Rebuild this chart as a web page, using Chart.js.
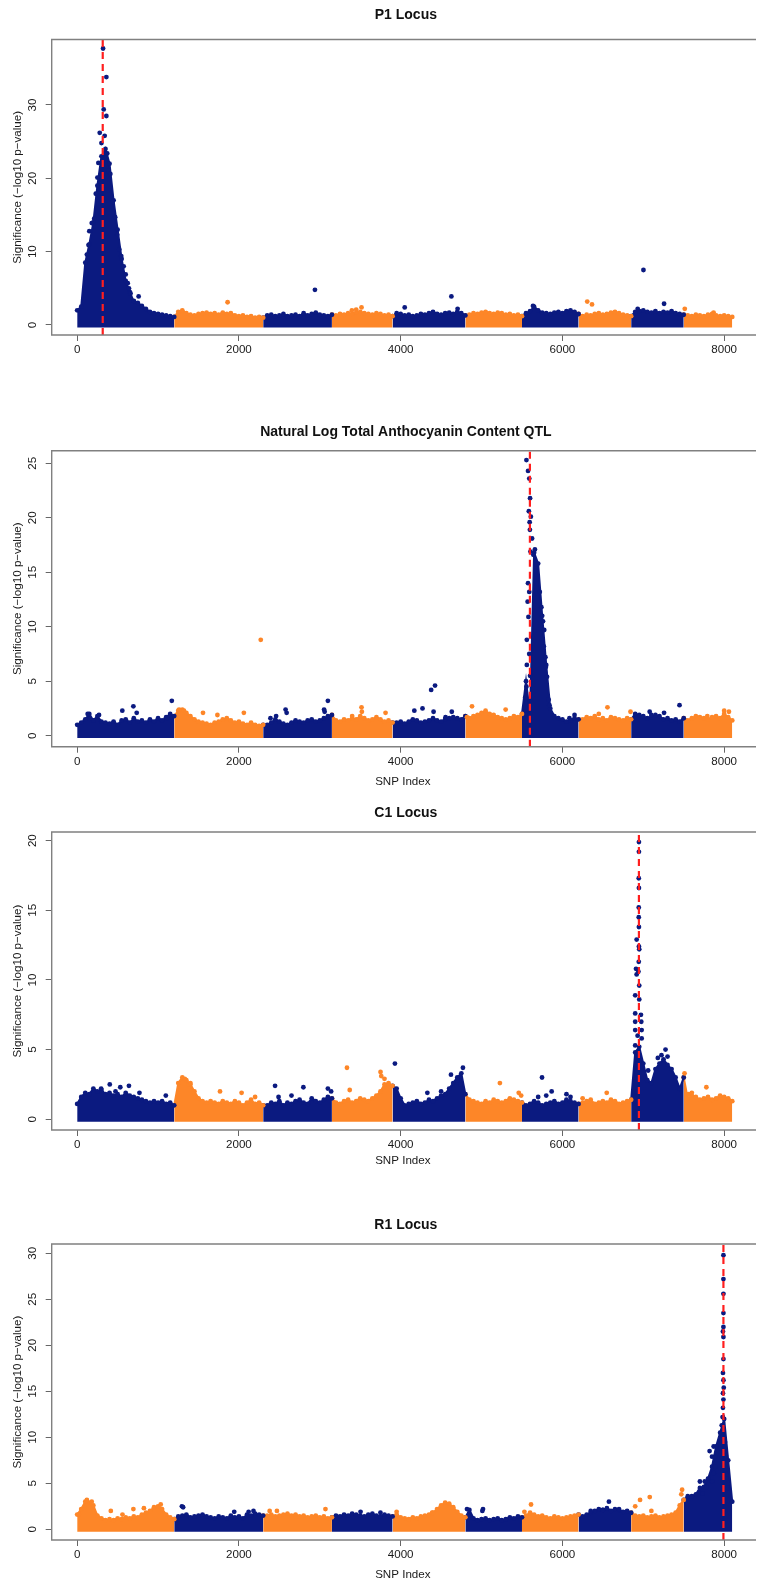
<!DOCTYPE html>
<html>
<head>
<meta charset="utf-8">
<script src="https://cdn.jsdelivr.net/npm/chart.js@4.4.1/dist/chart.umd.min.js"></script>
<style>
  html, body { margin: 0; padding: 0; background: #fff; }
  #page { position: relative; width: 758px; height: 1583px; overflow: hidden; }
  #page canvas { position: absolute; left: 0; }
</style>
</head>
<body>
<div id="page">
  <canvas id="p1" width="758" height="396" style="top:0px"></canvas>
  <canvas id="p2" width="758" height="396" style="top:396px"></canvas>
  <canvas id="p3" width="758" height="396" style="top:792px"></canvas>
  <canvas id="p4" width="758" height="395" style="top:1188px"></canvas>
</div>
<script>
// Manhattan plots, four loci. Dense SNP cloud is kept as the top of the
// band every 50 SNPs; isolated / peak SNPs are listed one by one.

const X_TICKS = [0, 2000, 4000, 6000, 8000];
const GRID_STEP = 50; // SNP index spacing of the band samples
const CHROM_BOUNDS = [0, 1200, 2300, 3150, 3900, 4800, 5500, 6200, 6850, 7500, 8100];

// ---- P1 Locus ----
const P1_Y_TICKS = [0, 10, 20, 30];
const P1_LEAD = 316;
const P1_TOP = [
  2.0, 2.5, 8.5, 11, 14, 19, 23, 24, 22, 17, 13, 9, 6, 4.5, 3.2, 3.0, 2.6, 2.2, 1.8, 1.6, 1.5, 1.4, 1.3, 1.2, 1.1,
  1.8, 2.0, 1.6, 1.4, 1.3, 1.5, 1.6, 1.7, 1.5, 1.6, 1.4, 1.7, 1.5, 1.6, 1.3, 1.2, 1.3, 1.1, 1.2, 1.0, 1.1, 1.0,
  1.3, 1.4, 1.2, 1.3, 1.5, 1.2, 1.3, 1.4, 1.2, 1.6, 1.3, 1.5, 1.7, 1.4, 1.3, 1.2, 1.4,
  1.3, 1.5, 1.4, 1.6, 1.5, 1.7, 1.8, 1.6, 1.5, 1.4, 1.6, 1.5, 1.3, 1.4, 1.2,
  1.6, 1.5, 1.3, 1.4, 1.2, 1.3, 1.5, 1.4, 1.6, 1.8, 1.5, 1.4, 1.6, 1.7, 1.5, 1.8, 1.6, 1.3,
  1.4, 1.6, 1.5, 1.7, 1.8, 1.6, 1.5, 1.7, 1.6, 1.4, 1.5, 1.3, 1.4, 1.2,
  1.6, 1.9, 2.5, 2.0, 1.7, 1.6, 1.5, 1.7, 1.8, 1.6, 1.9, 2.0, 1.8, 1.5,
  1.2, 1.4, 1.3, 1.5, 1.6, 1.4, 1.5, 1.7, 1.8, 1.6, 1.4, 1.3, 1.2,
  1.8, 1.9, 2.0, 1.8, 1.7, 1.9, 1.6, 1.8, 1.7, 1.9, 1.6, 1.5, 1.4,
  1.3, 1.2, 1.4, 1.3, 1.2, 1.4, 1.5, 1.3, 1.2, 1.3, 1.2, 1.1,
];
const P1_SPOTS = [
  [320, 37.7], [361, 33.8], [328, 29.4], [361, 28.5], [279, 26.2], [340, 25.8], [300, 24.8], [372, 23.4],
  [262, 22.1], [385, 21.0], [250, 20.1], [410, 20.6], [230, 17.9], [440, 16.8], [210, 14.5], [470, 14.7],
  [180, 13.9], [495, 12.3], [150, 12.8], [140, 10.9], [520, 10.3], [545, 9.4], [120, 9.6], [575, 8.0],
  [600, 6.9], [625, 5.7], [640, 5.0], [660, 4.3], [760, 3.9], [700, 3.3], [1860, 3.1], [2940, 4.8],
  [3397, 2.0], [3450, 2.1], [3516, 2.4], [4050, 2.4], [4627, 3.9], [4704, 2.2], [5636, 2.6], [6307, 3.2],
  [6366, 2.8], [6931, 2.2], [7002, 7.5], [7257, 2.9], [7513, 2.2], [7869, 1.7],
];

// ---- Natural Log Total Anthocyanin Content QTL ----
const P2_Y_TICKS = [0, 5, 10, 15, 20, 25];
const P2_LEAD = 5598;
const P2_TOP = [
  1.0, 1.2, 1.5, 2.0, 1.4, 1.8, 1.3, 1.2, 1.1, 1.3, 1.0, 1.4, 1.5, 1.2, 1.6, 1.3, 1.4, 1.2, 1.5, 1.3, 1.6, 1.4, 1.7, 2.0, 1.8,
  2.3, 2.4, 2.1, 1.8, 1.5, 1.3, 1.2, 1.1, 1.0, 1.2, 1.3, 1.5, 1.6, 1.4, 1.2, 1.3, 1.1, 1.0, 1.2, 1.0, 0.9, 1.0,
  1.0, 1.2, 1.5, 1.3, 1.1, 1.0, 1.2, 1.4, 1.3, 1.2, 1.4, 1.5, 1.3, 1.4, 1.6, 1.8, 1.9,
  1.4, 1.3, 1.5, 1.4, 1.6, 1.5, 1.8, 1.6, 1.4, 1.5, 1.7, 1.5, 1.3, 1.4, 1.2,
  1.2, 1.3, 1.1, 1.3, 1.5, 1.4, 1.2, 1.3, 1.4, 1.6, 1.4, 1.3, 1.5, 1.6, 1.7, 1.6, 1.5, 1.8,
  1.6, 1.8, 1.9, 2.1, 2.3, 2.0, 1.9, 1.7, 1.6, 1.5, 1.6, 1.8, 1.7, 2.0,
  5.0, 2.0, 16.8, 15.8, 11, 6.5, 2.5, 1.8, 1.6, 1.5, 1.3, 1.4, 1.6, 1.5,
  1.5, 1.7, 1.6, 1.8, 1.5, 1.6, 1.4, 1.7, 1.6, 1.5, 1.4, 1.6, 1.5,
  2.0, 1.9, 1.8, 1.6, 1.7, 1.9, 1.8, 1.5, 1.6, 1.4, 1.5, 1.3, 1.6,
  1.4, 1.6, 1.8, 1.7, 1.6, 1.5, 1.7, 1.8, 1.6, 2.0, 1.7, 1.4,
];
const P2_SPOTS = [
  [130, 2.0], [270, 1.9], [558, 2.3], [695, 2.7], [736, 2.1], [1110, 1.6], [1170, 3.2],
  [1260, 2.4], [1320, 2.3], [1556, 2.1], [1734, 1.9], [2061, 2.1], [2270, 8.8],
  [2390, 1.6], [2460, 1.8], [2577, 2.4], [2590, 2.1], [3053, 2.4], [3060, 2.2], [3100, 3.2],
  [3400, 1.8], [3516, 2.6], [3520, 2.2], [3813, 2.1],
  [4169, 2.3], [4270, 2.5], [4377, 4.2], [4407, 2.2], [4425, 4.6], [4555, 1.7], [4632, 2.2],
  [4820, 1.7], [4882, 2.7], [5298, 2.4],
  [5555, 25.3], [5575, 24.3], [5590, 23.6], [5600, 21.8], [5585, 20.6], [5610, 20.1], [5595, 19.6],
  [5598, 18.9], [5625, 18.1], [5605, 16.9], [5640, 16.6], [5575, 14.0], [5590, 13.2], [5570, 12.3],
  [5580, 10.9], [5560, 8.8], [5590, 7.5], [5560, 6.5], [5600, 5.5], [5555, 4.5], [5540, 3.5], [5600, 3.2],
  [5660, 17.1], [5720, 13.2], [5740, 11.8], [5760, 10.5], [5775, 9.7], [5770, 8.2], [5790, 7.2],
  [5795, 6.3], [5810, 5.4], [5830, 3.3], [5840, 2.8], [6087, 1.6], [6150, 1.9],
  [6450, 2.0], [6557, 2.6], [6842, 2.2], [7079, 2.2], [7100, 1.9], [7257, 2.1], [7448, 2.8],
  [7792, 1.8], [8000, 2.3], [8059, 2.2],
];

// ---- C1 Locus ----
const P3_Y_TICKS = [0, 5, 10, 15, 20];
const P3_LEAD = 6946;
const P3_TOP = [
  1.1, 1.6, 1.9, 1.8, 2.2, 2.0, 2.1, 1.8, 1.9, 1.7, 1.8, 1.6, 1.9, 1.7, 1.6, 1.5, 1.4, 1.3, 1.2, 1.3, 1.2, 1.3, 1.1, 1.2, 1.0,
  2.6, 3.0, 2.8, 2.5, 2.0, 1.5, 1.3, 1.2, 1.3, 1.2, 1.1, 1.3, 1.2, 1.1, 1.3, 1.2, 1.0, 1.2, 1.4, 1.1, 1.2, 1.0,
  1.0, 1.2, 1.1, 1.3, 1.0, 1.2, 1.1, 1.3, 1.4, 1.2, 1.1, 1.5, 1.3, 1.2, 1.4, 1.6, 1.5,
  1.2, 1.1, 1.3, 1.4, 1.2, 1.3, 1.5, 1.4, 1.3, 1.5, 1.7, 2.0, 2.5, 2.6, 2.4,
  2.2, 1.5, 1.0, 1.1, 1.2, 1.3, 1.1, 1.2, 1.4, 1.3, 1.5, 1.7, 1.8, 2.2, 2.6, 3.0, 3.3, 1.8,
  1.4, 1.3, 1.2, 1.1, 1.3, 1.2, 1.4, 1.3, 1.2, 1.3, 1.5, 1.4, 1.3, 1.2,
  1.0, 1.1, 1.3, 1.2, 1.0, 1.1, 1.2, 1.3, 1.1, 1.2, 1.4, 1.3, 1.2, 1.1,
  1.2, 1.3, 1.4, 1.1, 1.2, 1.3, 1.2, 1.4, 1.3, 1.1, 1.2, 1.3, 1.4,
  4.8, 5.2, 4.0, 2.8, 2.6, 3.6, 4.0, 4.3, 3.9, 3.6, 3.0, 2.2, 3.0,
  1.5, 1.7, 1.6, 1.4, 1.5, 1.6, 1.4, 1.5, 1.7, 1.6, 1.5, 1.3,
];
const P3_SPOTS = [
  [296, 2.2], [403, 2.5], [474, 2.0], [533, 2.3], [640, 2.4], [770, 1.9], [1096, 1.7],
  [1330, 2.9], [1380, 2.5], [1400, 2.6], [1766, 2.0], [2033, 1.9], [2200, 1.6],
  [2447, 2.4], [2490, 1.6], [2650, 1.7], [2797, 2.3], [3100, 2.2], [3140, 2.0],
  [3336, 3.7], [3370, 2.1], [3751, 3.4], [3760, 3.1], [3800, 2.9],
  [3929, 4.0], [4330, 1.9], [4500, 2.0], [4622, 3.2], [4700, 2.8], [4740, 2.5], [4770, 3.7],
  [5227, 2.6], [5460, 1.9], [5490, 1.7],
  [5700, 1.6], [5748, 3.0], [5800, 1.7], [5867, 2.0], [6050, 1.8], [6100, 1.6],
  [6250, 1.5], [6548, 1.9],
  [6946, 19.9], [6946, 19.2], [6944, 17.3], [6946, 16.6], [6944, 15.2], [6944, 14.5], [6946, 13.8],
  [6918, 12.9], [6946, 12.4], [6950, 12.2], [6944, 11.3], [6910, 10.8], [6940, 10.6], [6918, 10.4],
  [6950, 9.6], [6900, 8.9], [6950, 8.6], [6900, 7.6], [6971, 7.5], [6900, 7.0], [6975, 7.0],
  [6900, 6.4], [6980, 6.4], [6930, 6.0], [6980, 5.8], [6900, 5.3], [7275, 5.0], [7225, 4.6],
  [6918, 4.3], [7300, 4.5], [7180, 4.4], [7060, 3.5], [7510, 3.3],
  [7560, 1.8], [7600, 1.9], [7780, 2.3],
];

// ---- R1 Locus ----
const P4_Y_TICKS = [0, 5, 10, 15, 20, 25, 30];
const P4_LEAD = 7991;
const P4_TOP = [
  1.6, 2.2, 3.0, 2.9, 2.6, 1.5, 1.2, 1.0, 1.1, 1.0, 1.2, 1.1, 1.3, 1.2, 1.4, 1.3, 1.6, 1.8, 2.0, 2.4, 2.5, 2.2, 1.6, 1.3, 1.1,
  1.4, 1.5, 1.6, 1.3, 1.4, 1.5, 1.6, 1.4, 1.3, 1.2, 1.4, 1.3, 1.2, 1.5, 1.3, 1.4, 1.2, 1.6, 1.5, 1.7, 1.6, 1.5,
  1.5, 1.6, 1.4, 1.5, 1.6, 1.7, 1.5, 1.6, 1.4, 1.5, 1.3, 1.4, 1.5, 1.3, 1.4, 1.2, 1.3,
  1.5, 1.4, 1.6, 1.5, 1.7, 1.6, 1.5, 1.4, 1.6, 1.7, 1.5, 1.4, 1.6, 1.5, 1.4,
  1.6, 1.3, 1.2, 1.1, 1.3, 1.2, 1.4, 1.5, 1.6, 1.8, 2.2, 2.6, 2.9, 2.8, 2.4, 1.9, 1.5, 1.3,
  2.1, 1.2, 1.0, 1.1, 1.2, 1.0, 1.1, 1.2, 1.0, 1.1, 1.3, 1.2, 1.4, 1.3,
  1.5, 1.8, 1.6, 1.4, 1.5, 1.3, 1.2, 1.4, 1.3, 1.2, 1.3, 1.4, 1.5, 1.6,
  1.4, 1.6, 1.8, 2.0, 2.2, 2.1, 2.3, 2.0, 2.2, 2.1, 1.9, 2.0, 1.8,
  1.5, 1.4, 1.5, 1.3, 1.4, 1.5, 1.3, 1.4, 1.5, 1.6, 1.8, 2.6, 3.2,
  3.6, 3.6, 3.8, 4.5, 4.6, 5.5, 6.8, 9.0, 10.5, 12.0, 7.5, 3.0,
];
const P4_SPOTS = [
  [20, 1.6], [120, 3.2], [180, 3.0], [416, 2.0], [560, 1.6], [695, 2.2], [825, 2.3], [1033, 2.7],
  [1295, 2.5], [1310, 2.4], [1942, 1.9], [2120, 1.9], [2180, 2.0],
  [2380, 2.0], [2470, 2.0], [3070, 2.2], [3504, 1.9], [3750, 1.8],
  [3950, 1.9], [4389, 1.8], [4820, 2.2], [5010, 2.0], [5018, 2.2], [5530, 1.9], [5612, 2.7],
  [6350, 2.0], [6500, 2.1], [6575, 3.0], [6700, 2.2],
  [6900, 2.5], [6960, 3.2], [7080, 3.5], [7100, 2.0], [7470, 3.8], [7480, 4.3],
  [7991, 29.8], [7991, 27.2], [7991, 25.6], [7991, 23.5], [7991, 22.0], [7985, 21.5], [7991, 20.9],
  [7991, 18.5], [7985, 17.0], [7991, 16.2], [7995, 15.4], [7985, 14.8], [7991, 14.1], [7985, 13.2],
  [7980, 12.2], [7970, 11.3], [7975, 10.5], [7960, 9.7], [7950, 8.8], [7890, 7.9], [7890, 6.8],
  [7870, 6.1], [7850, 5.2], [7780, 4.6], [7730, 3.9], [7850, 7.9], [7820, 8.5], [7870, 9.0],
  [8010, 9.5], [8020, 8.0], [8030, 6.0], [8045, 4.5], [7700, 5.2], [7760, 5.2],
];

const NAVY = "#0b1a80";
const ORANGE = "#fd8628";
const LEAD_RED = "#ff1f1f";
const FONT = "'Liberation Sans', Arial, Helvetica, sans-serif";
const INK = "#1a1a1a";
const FRAME = "#808080";
const DOT_R = 2.4;

const X_MIN = -315;
const X_MAX = 8369;
const Y_AXIS_W = 51.7;

const PANELS = [
  { id: "p1", title: "P1 Locus", top: P1_TOP, spots: P1_SPOTS, lead: P1_LEAD, yTicks: P1_Y_TICKS,
    height: 396, boxTop: 39.5, boxBottom: 335, yMin: -1.364, yMax: 38.93, titleY: 15,
    xTitle: false, xTitlePad: 0, fillBase: -0.33, flip: false },
  { id: "p2", title: "Natural Log Total Anthocyanin Content QTL", top: P2_TOP, spots: P2_SPOTS, lead: P2_LEAD, yTicks: P2_Y_TICKS,
    height: 396, boxTop: 54.7, boxBottom: 350.7, yMin: -1.01, yMax: 26.16, titleY: 35.7,
    xTitle: true, xTitlePad: 3, fillBase: -0.22, flip: false },
  { id: "p3", title: "C1 Locus", top: P3_TOP, spots: P3_SPOTS, lead: P3_LEAD, yTicks: P3_Y_TICKS,
    height: 396, boxTop: 40, boxBottom: 338, yMin: -0.77, yMax: 20.62, titleY: 21,
    xTitle: true, xTitlePad: 20, fillBase: -0.17, flip: false },
  { id: "p4", title: "R1 Locus", top: P4_TOP, spots: P4_SPOTS, lead: P4_LEAD, yTicks: P4_Y_TICKS,
    height: 395, boxTop: 56, boxBottom: 352, yMin: -1.16, yMax: 31.01, titleY: 37,
    xTitle: true, xTitlePad: 1, fillBase: -0.26, flip: true },
];

function chromIndex(x) {
  for (let k = 0; k < CHROM_BOUNDS.length - 1; k++) {
    if (x < CHROM_BOUNDS[k + 1]) return k;
  }
  return CHROM_BOUNDS.length - 2;
}

function chromColour(k, flip) {
  const even = k % 2 === 0;
  return (even !== flip) ? NAVY : ORANGE;
}

function bandDatasets(p) {
  const sets = [];
  for (let k = 0; k < CHROM_BOUNDS.length - 1; k++) {
    const lo = CHROM_BOUNDS[k];
    const hi = CHROM_BOUNDS[k + 1];
    const pts = [];
    p.top.forEach((y, i) => {
      const x = i * GRID_STEP;
      if (x >= lo && x <= hi) pts.push({ x, y });
    });
    const colour = chromColour(k, p.flip);
    sets.push({
      data: pts,
      borderColor: colour,
      backgroundColor: colour,
      pointBackgroundColor: colour,
      pointBorderWidth: 0,
      pointRadius: DOT_R,
      borderWidth: 2,
      tension: 0,
      fill: { value: p.fillBase },
      order: 2,
    });
  }
  return sets;
}

function spotDataset(p) {
  return {
    data: p.spots.map(([x, y]) => ({ x, y })),
    showLine: false,
    pointRadius: DOT_R,
    pointBorderWidth: 0,
    pointBackgroundColor: p.spots.map(([x]) => chromColour(chromIndex(x), p.flip)),
    order: 1,
  };
}

function leadDataset(p) {
  return {
    data: [{ x: p.lead, y: p.yMin }, { x: p.lead, y: p.yMax }],
    borderColor: LEAD_RED,
    borderWidth: 2.2,
    borderDash: [7, 5],
    pointRadius: 0,
    fill: false,
    order: 0,
  };
}

// R-style frame (left, top, bottom) and bold main title over the plot region
const rFrame = {
  id: "rFrame",
  afterDraw(chart, args, opts) {
    const { ctx, chartArea: a } = chart;
    ctx.save();
    ctx.strokeStyle = FRAME;
    ctx.lineWidth = 1.4;
    ctx.beginPath();
    ctx.moveTo(a.right + 2, a.top);
    ctx.lineTo(a.left, a.top);
    ctx.lineTo(a.left, a.bottom);
    ctx.lineTo(a.right + 2, a.bottom);
    ctx.stroke();
    ctx.fillStyle = "#111";
    ctx.font = `bold 14px ${FONT}`;
    ctx.textAlign = "center";
    ctx.textBaseline = "middle";
    ctx.fillText(opts.title, (a.left + 760) / 2, opts.titleY);
    ctx.restore();
  },
};

function drawPanel(p) {
  const tickFont = { family: FONT, size: 11.6 };
  new Chart(document.getElementById(p.id), {
    type: "line",
    data: { datasets: [...bandDatasets(p), spotDataset(p), leadDataset(p)] },
    options: {
      responsive: false,
      animation: false,
      devicePixelRatio: 1,
      events: [],
      layout: { padding: { top: p.boxTop, bottom: 0, left: 0, right: 0 } },
      plugins: {
        legend: { display: false },
        tooltip: { enabled: false },
        rFrame: { title: p.title, titleY: p.titleY },
      },
      scales: {
        x: {
          type: "linear",
          min: X_MIN,
          max: X_MAX,
          afterBuildTicks: (s) => { s.ticks = X_TICKS.map((v) => ({ value: v })); },
          afterFit: (s) => { s.height = p.height - p.boxBottom; },
          border: { display: false },
          grid: { drawOnChartArea: false, drawTicks: true, tickLength: 6, color: "#666" },
          ticks: {
            font: tickFont, color: INK, padding: 2, autoSkip: false, maxRotation: 0,
            callback: (v) => String(v),
          },
          title: {
            display: p.xTitle,
            text: "SNP Index",
            font: tickFont,
            color: INK,
            padding: { top: 0, bottom: p.xTitlePad },
          },
        },
        y: {
          min: p.yMin,
          max: p.yMax,
          afterBuildTicks: (s) => { s.ticks = p.yTicks.map((v) => ({ value: v })); },
          afterFit: (s) => { s.width = Y_AXIS_W; },
          border: { display: false },
          grid: { drawOnChartArea: false, drawTicks: true, tickLength: 6, color: "#666" },
          ticks: {
            font: tickFont,
            color: INK,
            padding: 6.2,
            autoSkip: false,
            minRotation: 90,
            maxRotation: 90,
            crossAlign: "center",
            callback: (v) => String(v),
          },
          title: {
            display: true,
            text: "Significance (\u2212log10 p\u2212value)",
            font: tickFont,
            color: INK,
            padding: { top: 11, bottom: 0 },
          },
        },
      },
    },
    plugins: [rFrame],
  });
}

PANELS.forEach(drawPanel);
</script>
</body>
</html>
